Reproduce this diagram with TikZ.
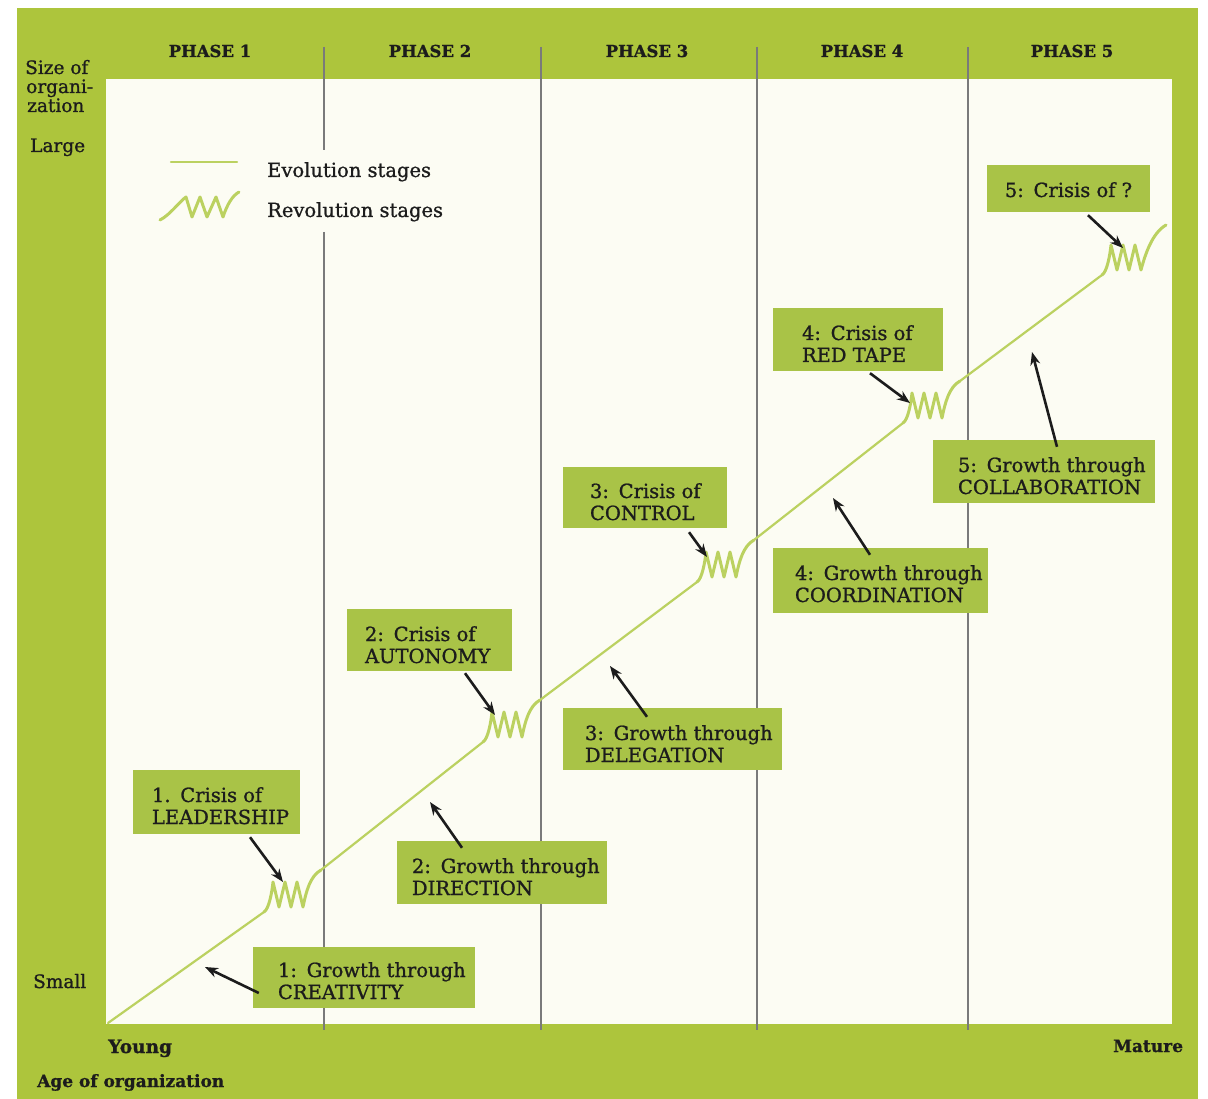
\documentclass[tikz,border=0pt]{standalone}
\usepackage{fontspec}
\setmainfont{DejaVu Serif}[FakeBold=1]
\usetikzlibrary{arrows.meta}
\definecolor{framegreen}{HTML}{ADC53C}
\definecolor{boxgreen}{HTML}{A9C347}
\definecolor{panelc}{HTML}{FCFCF3}
\definecolor{curvec}{HTML}{BBD160}
\definecolor{linec}{HTML}{7A7A7A}
\definecolor{inkc}{HTML}{1C1C1C}
\newcommand\bxfont{\fontsize{19.5}{22}\selectfont}
\newcommand\lbfont{\fontsize{18.5}{19.5}\selectfont}
\newcommand\phfont{\fontsize{16.5}{19}\selectfont\bfseries}
\newcommand\bx[2]{\makebox[#1][l]{\begin{tabular}[t]{@{}l@{}}#2\end{tabular}}}
\begin{document}
\begin{tikzpicture}[x=1pt,y=-1pt,
  curve/.style={draw=curvec,line width=2.2pt,line cap=round,line join=round},
  zigline/.style={draw=curvec,line width=3pt,line cap=round,line join=round},
  phaseline/.style={draw=linec,line width=1.4pt},
  box/.style={fill=boxgreen,inner ysep=0pt,text height=32pt,font=\bxfont,text=inkc},
  lbl/.style={font=\lbfont,text=inkc,inner sep=0pt,anchor=base west},
  phase/.style={font=\phfont,text=inkc,inner sep=0pt,anchor=base},
  arr/.style={draw=inkc,line width=2.6pt,-{Stealth[length=13pt,width=10pt]}},
  zig/.pic={\draw[zigline] (0,0) .. controls (5,-3) and (8,-20) .. (9,-30) -- (15,-5) -- (21,-30) -- (27,-5) -- (33,-30) -- (39,-5) .. controls (42,-20) and (46,-36) .. (57,-42);},
  zigend/.pic={\draw[zigline] (0,0) .. controls (5,-3) and (8,-20) .. (9,-30) -- (15,-5) -- (21,-30) -- (27,-5) -- (33,-30) -- (39,-5) .. controls (43,-20) and (50,-42) .. (64,-50);}
]
\useasboundingbox (0,0) rectangle (1208,1099);
% frame and panel
\fill[framegreen] (17,8) rectangle (1198,1099);
\fill[panelc] (106,79) rectangle (1172,1024);
% phase lines
\draw[phaseline] (324,47) -- (324,150) (324,232) -- (324,1030);
\draw[phaseline] (541,47) -- (541,1030);
\draw[phaseline] (757,47) -- (757,1030);
\draw[phaseline] (968,47) -- (968,1030);
% phase labels
\node[phase] (p1) at (210,57) {PHASE 1};
\node[phase] (p2) at (430,57) {PHASE 2};
\node[phase] (p3) at (647,57) {PHASE 3};
\node[phase] (p4) at (862,57) {PHASE 4};
\node[phase] (p5) at (1072,57) {PHASE 5};
% axis labels
\node[lbl] (sz1) at (25,74) {Size of};
\node[lbl] (sz2) at (26,93) {organi-};
\node[lbl] (sz3) at (27,112) {zation};
\node[lbl] (large) at (30,152) {Large};
\node[lbl] (small) at (33,988) {Small};
\node[lbl,font=\lbfont\bfseries] (young) at (108,1053) {Young};
\node[lbl,font=\fontsize{17}{19}\selectfont\bfseries] (age) at (37,1087) {Age of organization};
\node[lbl,font=\fontsize{17}{19}\selectfont\bfseries] (mature) at (1113,1052) {Mature};
% legend
\draw[curve] (171,162) -- (237,162);
\draw[zigline] (160,220) .. controls (170,215) and (180,201) .. (186,197) -- (192,217) -- (200,197) -- (207,217) -- (216,197) -- (223,217) .. controls (227,205) and (232,196) .. (239,192);
\node[lbl,font=\bxfont] (evo) at (267,177) {Evolution stages};
\node[lbl,font=\bxfont] (rev) at (267,217) {Revolution stages};
% growth curve
\draw[curve] (108,1023) -- (264,912);
\pic at (264,912) {zig};
\draw[curve] (321,870) -- (483,742);
\pic at (483,742) {zig};
\draw[curve] (540,700) -- (697,582);
\pic at (697,582) {zig};
\draw[curve] (754,540) -- (903,423);
\pic at (903,423) {zig};
\draw[curve] (960,381) -- (1102,275);
\pic at (1102,275) {zigend};
% boxes
\node[box,inner xsep=19pt,text depth=32pt] (lead) at (216.5,802) {\bx{129pt}{1.\enspace Crisis of\\LEADERSHIP}};
\node[box,inner xsep=25pt,text height=30pt,text depth=31pt] (creat) at (364,977.5) {\bx{172pt}{1:\enspace Growth through\\CREATIVITY}};
\node[box,inner xsep=18pt,text depth=30pt] (auto) at (429.5,640) {\bx{129pt}{2:\enspace Crisis of\\AUTONOMY}};
\node[box,inner xsep=15pt,text depth=31pt] (dir) at (502,872.5) {\bx{180pt}{2:\enspace Growth through\\DIRECTION}};
\node[box,inner xsep=27pt,text height=31pt,text depth=30pt] (ctrl) at (645,497.5) {\bx{110pt}{3:\enspace Crisis of\\CONTROL}};
\node[box,inner xsep=22pt,text depth=30pt] (deleg) at (672.5,739) {\bx{175pt}{3:\enspace Growth through\\DELEGATION}};
\node[box,inner xsep=29pt,text depth=31pt] (red) at (858,339.5) {\bx{112pt}{4:\enspace Crisis of\\RED TAPE}};
\node[box,inner xsep=22pt,text depth=33pt] (coord) at (880.5,580.5) {\bx{171pt}{4:\enspace Growth through\\COORDINATION}};
\node[box,inner xsep=10pt,text depth=15pt] (q) at (1068.5,188.5) {\makebox[143pt][c]{5:\enspace Crisis of ?}};
\node[box,inner xsep=25pt,text depth=31pt] (collab) at (1044,471.5) {\bx{172pt}{5:\enspace Growth through\\COLLABORATION}};
% arrow tips
\coordinate (t1) at (283,882);
\coordinate (t2) at (205,967);
\coordinate (t3) at (495,715);
\coordinate (t4) at (430,802);
\coordinate (t5) at (707,557);
\coordinate (t6) at (610,666);
\coordinate (t7) at (910,403);
\coordinate (t8) at (833,498);
\coordinate (t9) at (1123,248);
\coordinate (t10) at (1032,352);
% arrows
\draw[arr] ([xshift=33.5pt,yshift=-3pt]lead.south) -- (t1);
\draw[arr] ([xshift=6pt,yshift=-15.5pt]creat.west) -- (t2);
\draw[arr] ([xshift=35.5pt,yshift=-2pt]auto.south) -- (t3);
\draw[arr] ([xshift=-40pt,yshift=-7pt]dir.north) -- (t4);
\draw[arr] ([xshift=44pt,yshift=-4pt]ctrl.south) -- (t5);
\draw[arr] ([xshift=-25.5pt,yshift=-9pt]deleg.north) -- (t6);
\draw[arr] ([xshift=12pt,yshift=-2pt]red.south) -- (t7);
\draw[arr] ([xshift=-10.5pt,yshift=-7pt]coord.north) -- (t8);
\draw[arr] ([xshift=19.5pt,yshift=-3pt]q.south) -- (t9);
\draw[arr] ([xshift=13pt,yshift=-7pt]collab.north) -- (t10);
\end{tikzpicture}
\end{document}
